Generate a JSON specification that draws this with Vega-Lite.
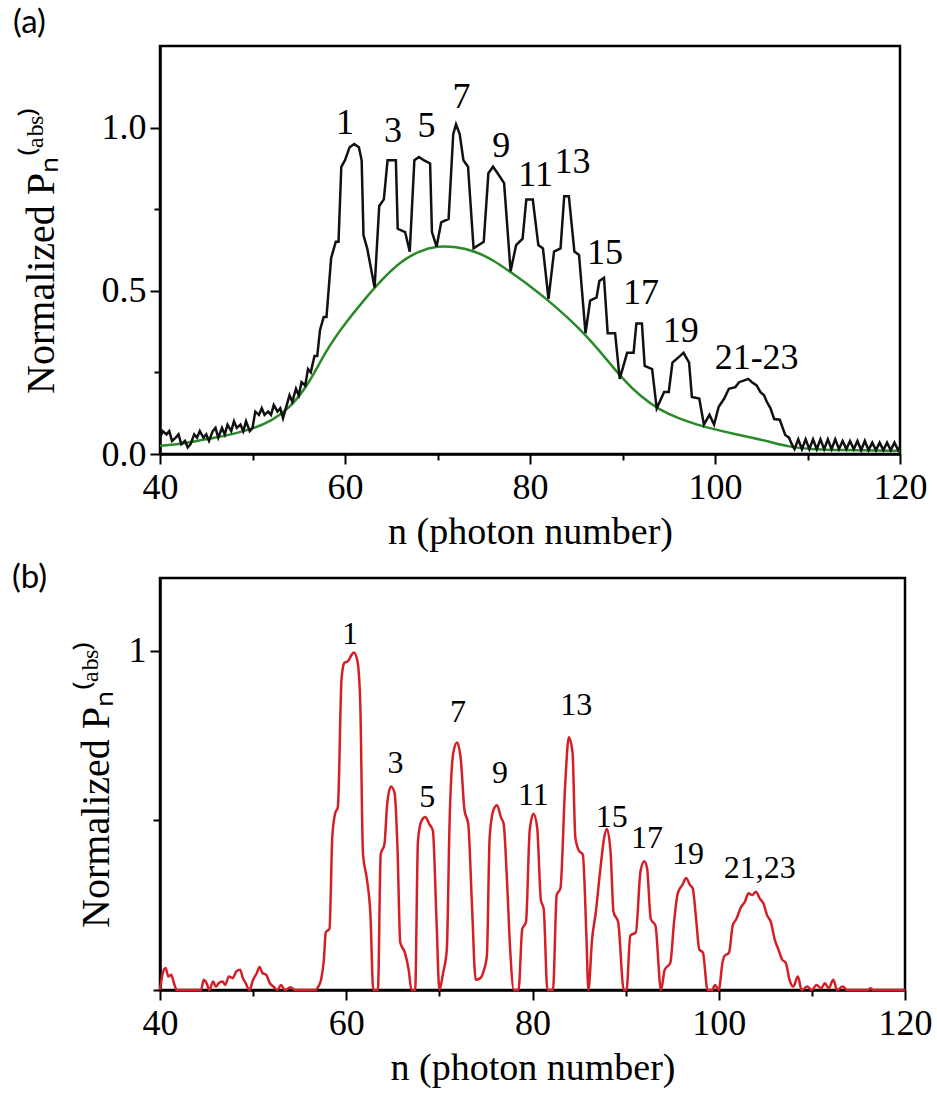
{
  "$schema": "https://vega.github.io/schema/vega-lite/v6.json",
  "background": "white",
  "padding": {"left": 10, "top": 5, "right": 20, "bottom": 5},
  "spacing": 7,
  "config": {
    "view": {"stroke": "black", "strokeWidth": 2.5},
    "axis": {
      "domainColor": "black", "domainWidth": 2.5, "tickColor": "black", "tickWidth": 2,
      "labelFont": "Liberation Serif", "labelFontSize": 36, "labelColor": "black",
      "titleFont": "Liberation Serif", "titleFontSize": 38, "titleFontWeight": "normal", "titleColor": "black",
      "grid": false, "labelFlush": false, "labelOverlap": false, "labelBound": false
    }
  },
  "datasets": {
    "a_black": [
      {"n":40.0,"p":0.05},{"n":40.3,"p":0.07},{"n":40.7,"p":0.06},{"n":41.0,"p":0.07},{"n":41.3,"p":0.04},{"n":41.7,"p":0.05},
      {"n":42.0,"p":0.06},{"n":42.3,"p":0.03},{"n":42.7,"p":0.04},{"n":43.0,"p":0.02},{"n":43.3,"p":0.03},{"n":43.7,"p":0.06},
      {"n":44.0,"p":0.05},{"n":44.3,"p":0.07},{"n":44.7,"p":0.05},{"n":45.0,"p":0.06},{"n":45.3,"p":0.04},{"n":45.7,"p":0.07},
      {"n":46.0,"p":0.08},{"n":46.3,"p":0.05},{"n":46.7,"p":0.08},{"n":47.0,"p":0.06},{"n":47.3,"p":0.09},{"n":47.7,"p":0.07},
      {"n":48.0,"p":0.10},{"n":48.3,"p":0.08},{"n":48.7,"p":0.09},{"n":49.0,"p":0.07},{"n":49.3,"p":0.10},{"n":49.7,"p":0.07},
      {"n":50.0,"p":0.08},{"n":50.3,"p":0.13},{"n":50.7,"p":0.12},{"n":51.0,"p":0.14},{"n":51.3,"p":0.12},{"n":51.7,"p":0.13},
      {"n":52.0,"p":0.12},{"n":52.3,"p":0.15},{"n":52.7,"p":0.13},{"n":53.0,"p":0.14},{"n":53.3,"p":0.11},{"n":53.7,"p":0.15},
      {"n":54.0,"p":0.18},{"n":54.3,"p":0.16},{"n":54.7,"p":0.20},{"n":55.0,"p":0.18},{"n":55.3,"p":0.22},{"n":55.7,"p":0.21},
      {"n":56.0,"p":0.26},{"n":56.3,"p":0.25},{"n":56.7,"p":0.30},{"n":57.0,"p":0.30},{"n":57.3,"p":0.38},{"n":57.7,"p":0.42},
      {"n":58.0,"p":0.42},{"n":58.5,"p":0.60},{"n":59.0,"p":0.65},{"n":59.3,"p":0.65},{"n":59.6,"p":0.88},{"n":60.0,"p":0.90},
      {"n":60.5,"p":0.94},{"n":61.0,"p":0.95},{"n":61.5,"p":0.94},{"n":61.8,"p":0.90},{"n":62.0,"p":0.67},{"n":62.4,"p":0.63},
      {"n":63.2,"p":0.51},{"n":63.7,"p":0.76},{"n":64.2,"p":0.78},{"n":64.6,"p":0.90},{"n":65.5,"p":0.90},{"n":65.7,"p":0.69},
      {"n":66.5,"p":0.68},{"n":67.0,"p":0.62},{"n":67.5,"p":0.90},{"n":68.0,"p":0.91},{"n":68.5,"p":0.90},{"n":69.2,"p":0.89},
      {"n":69.4,"p":0.68},{"n":69.9,"p":0.635},{"n":70.4,"p":0.71},{"n":71.2,"p":0.72},{"n":71.7,"p":0.98},{"n":72.0,"p":1.01},
      {"n":72.4,"p":0.98},{"n":72.8,"p":0.90},{"n":73.3,"p":0.88},{"n":73.9,"p":0.63},{"n":75.0,"p":0.65},{"n":75.5,"p":0.86},
      {"n":76.0,"p":0.88},{"n":76.5,"p":0.86},{"n":77.2,"p":0.83},{"n":77.9,"p":0.56},{"n":78.5,"p":0.64},{"n":79.2,"p":0.66},
      {"n":79.6,"p":0.78},{"n":80.3,"p":0.78},{"n":80.9,"p":0.64},{"n":81.4,"p":0.63},{"n":82.0,"p":0.475},{"n":82.6,"p":0.62},
      {"n":83.3,"p":0.63},{"n":83.7,"p":0.79},{"n":84.2,"p":0.79},{"n":84.8,"p":0.62},{"n":85.3,"p":0.61},{"n":86.0,"p":0.37},
      {"n":86.5,"p":0.47},{"n":87.2,"p":0.48},{"n":87.5,"p":0.53},{"n":88.0,"p":0.54},{"n":88.4,"p":0.37},{"n":89.2,"p":0.37},
      {"n":89.7,"p":0.23},{"n":90.5,"p":0.31},{"n":91.2,"p":0.31},{"n":91.5,"p":0.40},{"n":92.1,"p":0.40},{"n":92.4,"p":0.27},
      {"n":93.2,"p":0.26},{"n":93.7,"p":0.14},{"n":94.5,"p":0.19},{"n":95.0,"p":0.19},{"n":95.4,"p":0.28},{"n":96.2,"p":0.30},
      {"n":96.6,"p":0.31},{"n":97.2,"p":0.28},{"n":97.5,"p":0.175},{"n":98.3,"p":0.17},{"n":98.8,"p":0.09},{"n":99.4,"p":0.12},
      {"n":99.9,"p":0.09},{"n":100.4,"p":0.145},{"n":101.0,"p":0.17},{"n":101.5,"p":0.20},{"n":102.2,"p":0.205},{"n":102.6,"p":0.22},
      {"n":103.1,"p":0.225},{"n":103.6,"p":0.23},{"n":104.0,"p":0.22},{"n":104.5,"p":0.21},{"n":104.9,"p":0.19},{"n":105.3,"p":0.18},
      {"n":105.6,"p":0.16},{"n":106.0,"p":0.14},{"n":106.4,"p":0.107},{"n":107.0,"p":0.105},{"n":107.6,"p":0.058},{"n":108.0,"p":0.05},
      {"n":108.3,"p":0.03},{"n":108.6,"p":0.015},{"n":109.0,"p":0.045},{"n":109.4,"p":0.015},{"n":109.8,"p":0.045},{"n":110.2,"p":0.015},
      {"n":110.6,"p":0.045},{"n":111.0,"p":0.015},{"n":111.4,"p":0.045},{"n":111.8,"p":0.015},{"n":112.2,"p":0.045},{"n":112.6,"p":0.015},
      {"n":113.0,"p":0.045},{"n":113.4,"p":0.015},{"n":113.8,"p":0.04},{"n":114.2,"p":0.015},{"n":114.6,"p":0.04},{"n":115.0,"p":0.015},
      {"n":115.4,"p":0.04},{"n":115.8,"p":0.012},{"n":116.2,"p":0.04},{"n":116.6,"p":0.012},{"n":117.0,"p":0.035},{"n":117.4,"p":0.012},
      {"n":117.8,"p":0.035},{"n":118.2,"p":0.012},{"n":118.6,"p":0.035},{"n":119.0,"p":0.012},{"n":119.4,"p":0.035},{"n":119.8,"p":0.012},
      {"n":120.0,"p":0.02}
    ],
    "a_green": [
      {"n":40,"p":0.025},{"n":42,"p":0.03},{"n":44,"p":0.04},{"n":46,"p":0.05},{"n":48,"p":0.062},{"n":50,"p":0.077},
      {"n":52,"p":0.10},{"n":54,"p":0.14},{"n":56,"p":0.21},{"n":58,"p":0.32},{"n":60,"p":0.40},{"n":62,"p":0.47},
      {"n":64,"p":0.535},{"n":66,"p":0.59},{"n":68,"p":0.622},{"n":70,"p":0.638},{"n":72,"p":0.635},{"n":74,"p":0.622},
      {"n":76,"p":0.595},{"n":78,"p":0.555},{"n":80,"p":0.515},{"n":82,"p":0.47},{"n":84,"p":0.42},{"n":86,"p":0.365},
      {"n":88,"p":0.30},{"n":90,"p":0.23},{"n":92,"p":0.175},{"n":94,"p":0.135},{"n":96,"p":0.11},{"n":98,"p":0.09},
      {"n":100,"p":0.075},{"n":102,"p":0.062},{"n":104,"p":0.05},{"n":106,"p":0.037},{"n":108,"p":0.022},{"n":110,"p":0.015},
      {"n":114,"p":0.012},{"n":120,"p":0.01}
    ],
    "a_labels": [
      {"n":60.0,"p":0.98,"label":"1"},{"n":65.2,"p":0.955,"label":"3"},{"n":68.8,"p":0.972,"label":"5"},
      {"n":72.6,"p":1.06,"label":"7"},{"n":76.9,"p":0.91,"label":"9"},{"n":80.6,"p":0.82,"label":"11"},
      {"n":84.6,"p":0.86,"label":"13"},{"n":88.1,"p":0.583,"label":"15"},{"n":92.0,"p":0.46,"label":"17"},
      {"n":96.3,"p":0.344,"label":"19"},{"n":104.5,"p":0.26,"label":"21-23"}
    ],
    "b_red": [
      {"n":40.0,"p":0.0},{"n":40.3,"p":0.05},{"n":40.6,"p":0.065},{"n":40.9,"p":0.04},{"n":41.2,"p":0.045},{"n":41.5,"p":0.02},
      {"n":41.8,"p":0.0},{"n":44.4,"p":0.0},{"n":44.7,"p":0.03},{"n":45.0,"p":0.02},{"n":45.3,"p":0.0},{"n":45.7,"p":0.025},
      {"n":46.0,"p":0.01},{"n":46.3,"p":0.02},{"n":46.7,"p":0.025},{"n":47.0,"p":0.015},{"n":47.4,"p":0.04},{"n":47.8,"p":0.035},
      {"n":48.2,"p":0.055},{"n":48.6,"p":0.06},{"n":48.9,"p":0.035},{"n":49.2,"p":0.02},{"n":49.6,"p":0.0},{"n":50.0,"p":0.03},
      {"n":50.4,"p":0.05},{"n":50.7,"p":0.068},{"n":51.0,"p":0.05},{"n":51.4,"p":0.045},{"n":51.8,"p":0.02},{"n":52.2,"p":0.01},
      {"n":52.6,"p":0.0},{"n":53.0,"p":0.015},{"n":53.4,"p":0.0},{"n":54.0,"p":0.008},{"n":54.5,"p":0.0},{"n":56.7,"p":0.0},
      {"n":57.0,"p":0.01},{"n":57.3,"p":0.03},{"n":57.6,"p":0.09},{"n":57.8,"p":0.17},{"n":58.2,"p":0.18},{"n":58.5,"p":0.45},
      {"n":58.8,"p":0.52},{"n":59.1,"p":0.54},{"n":59.5,"p":0.92},{"n":59.8,"p":0.965},{"n":60.2,"p":0.97},{"n":60.5,"p":0.985},
      {"n":60.8,"p":0.995},{"n":61.2,"p":0.97},{"n":61.5,"p":0.85},{"n":61.8,"p":0.40},{"n":62.2,"p":0.33},{"n":62.6,"p":0.22},
      {"n":62.9,"p":0.0},{"n":63.4,"p":0.0},{"n":63.7,"p":0.40},{"n":64.1,"p":0.43},{"n":64.4,"p":0.55},{"n":64.8,"p":0.60},
      {"n":65.2,"p":0.58},{"n":65.5,"p":0.42},{"n":65.8,"p":0.14},{"n":66.3,"p":0.11},{"n":66.7,"p":0.06},{"n":67.0,"p":0.0},
      {"n":67.4,"p":0.0},{"n":67.7,"p":0.44},{"n":68.1,"p":0.50},{"n":68.5,"p":0.51},{"n":68.9,"p":0.49},{"n":69.3,"p":0.47},
      {"n":69.7,"p":0.2},{"n":70.0,"p":0.0},{"n":70.4,"p":0.05},{"n":70.8,"p":0.12},{"n":71.1,"p":0.50},{"n":71.5,"p":0.70},
      {"n":71.9,"p":0.73},{"n":72.3,"p":0.68},{"n":72.7,"p":0.53},{"n":73.1,"p":0.49},{"n":73.5,"p":0.25},{"n":73.9,"p":0.03},
      {"n":74.4,"p":0.035},{"n":74.8,"p":0.06},{"n":75.1,"p":0.10},{"n":75.4,"p":0.45},{"n":75.8,"p":0.53},{"n":76.2,"p":0.545},
      {"n":76.6,"p":0.51},{"n":76.9,"p":0.49},{"n":77.3,"p":0.30},{"n":77.6,"p":0.12},{"n":78.0,"p":0.0},{"n":78.5,"p":0.0},
      {"n":78.9,"p":0.18},{"n":79.3,"p":0.20},{"n":79.7,"p":0.47},{"n":80.1,"p":0.52},{"n":80.5,"p":0.48},{"n":80.9,"p":0.265},
      {"n":81.2,"p":0.24},{"n":81.6,"p":0.0},{"n":82.2,"p":0.0},{"n":82.6,"p":0.28},{"n":83.0,"p":0.30},{"n":83.5,"p":0.60},
      {"n":83.9,"p":0.745},{"n":84.3,"p":0.70},{"n":84.6,"p":0.45},{"n":85.0,"p":0.41},{"n":85.4,"p":0.40},{"n":85.8,"p":0.15},
      {"n":86.0,"p":0.0},{"n":86.4,"p":0.15},{"n":86.8,"p":0.23},{"n":87.3,"p":0.36},{"n":87.7,"p":0.45},{"n":88.0,"p":0.475},
      {"n":88.4,"p":0.40},{"n":88.7,"p":0.23},{"n":89.2,"p":0.20},{"n":89.8,"p":0.0},{"n":90.1,"p":0.0},{"n":90.5,"p":0.16},
      {"n":91.1,"p":0.17},{"n":91.6,"p":0.35},{"n":92.0,"p":0.38},{"n":92.3,"p":0.36},{"n":92.7,"p":0.21},{"n":93.2,"p":0.19},
      {"n":93.8,"p":0.0},{"n":94.2,"p":0.06},{"n":94.8,"p":0.08},{"n":95.2,"p":0.20},{"n":95.6,"p":0.285},{"n":96.1,"p":0.31},
      {"n":96.5,"p":0.33},{"n":96.9,"p":0.31},{"n":97.2,"p":0.30},{"n":97.6,"p":0.20},{"n":97.9,"p":0.12},{"n":98.3,"p":0.11},
      {"n":98.8,"p":0.0},{"n":99.3,"p":0.0},{"n":99.6,"p":0.015},{"n":100.0,"p":0.0},{"n":100.4,"p":0.08},{"n":100.6,"p":0.10},
      {"n":101.1,"p":0.11},{"n":101.5,"p":0.19},{"n":101.9,"p":0.21},{"n":102.4,"p":0.245},{"n":102.8,"p":0.26},{"n":103.2,"p":0.285},
      {"n":103.6,"p":0.28},{"n":104.0,"p":0.29},{"n":104.4,"p":0.27},{"n":104.8,"p":0.255},{"n":105.2,"p":0.22},{"n":105.6,"p":0.20},
      {"n":106.0,"p":0.15},{"n":106.4,"p":0.12},{"n":106.8,"p":0.09},{"n":107.2,"p":0.08},{"n":107.6,"p":0.03},{"n":108.0,"p":0.01},
      {"n":108.5,"p":0.04},{"n":108.9,"p":0.0},{"n":109.5,"p":0.01},{"n":110.0,"p":0.0},{"n":110.5,"p":0.015},{"n":111.0,"p":0.005},
      {"n":111.4,"p":0.02},{"n":111.8,"p":0.005},{"n":112.3,"p":0.03},{"n":112.7,"p":0.0},{"n":113.3,"p":0.01},{"n":113.8,"p":0.0},
      {"n":116.0,"p":0.0},{"n":116.3,"p":0.005},{"n":116.6,"p":0.0},{"n":120.0,"p":0.0}
    ],
    "b_labels": [
      {"n":60.4,"p":1.02,"label":"1"},{"n":65.3,"p":0.64,"label":"3"},{"n":68.7,"p":0.54,"label":"5"},
      {"n":72.0,"p":0.79,"label":"7"},{"n":76.5,"p":0.61,"label":"9"},{"n":80.1,"p":0.545,"label":"11"},
      {"n":84.7,"p":0.81,"label":"13"},{"n":88.5,"p":0.48,"label":"15"},{"n":92.3,"p":0.42,"label":"17"},
      {"n":96.7,"p":0.373,"label":"19"},{"n":104.4,"p":0.33,"label":"21,23"}
    ]
  },
  "vconcat": [
    {
      "width": 740, "height": 408,
      "title": {"text": "(a)", "anchor": "start", "frame": "bounds", "font": "Lato", "fontSize": 33, "fontWeight": "normal", "color": "black", "baseline": "bottom", "offset": -27, "dx": -8},
      "encoding": {
        "x": {"field": "n", "type": "quantitative",
              "scale": {"domain": [40, 120], "nice": false, "zero": false},
              "axis": {"values": [40,50,60,70,80,90,100,110,120], "title": "n (photon number)",
                       "labelExpr": "datum.value % 20 === 0 ? datum.label : ''",
                       "tickSize": {"condition": {"test": "datum.value % 20 === 0", "value": 10}, "value": 6},
                       "labelPadding": 6, "titlePadding": 8}},
        "y": {"field": "p", "type": "quantitative",
              "scale": {"domain": [0, 1.25], "nice": false, "zero": false},
              "axis": {"values": [0, 0.25, 0.5, 0.75, 1.0], "format": ".1f", "title": "Normalized Pₙ⁽ᵃᵇˢ⁾",
                       "titleFontSize": 40,
                       "labelExpr": "datum.value % 0.5 === 0 ? datum.label : ''",
                       "tickSize": {"condition": {"test": "datum.value % 0.5 === 0", "value": 10}, "value": 6},
                       "labelPadding": 4, "titlePadding": 40}}
      },
      "layer": [
        {"data": {"name": "a_green"}, "mark": {"type": "line", "color": "#2a8a2a", "strokeWidth": 2.5, "interpolate": "basis"}, "encoding": {}},
        {"data": {"name": "a_black"}, "mark": {"type": "line", "color": "#111111", "strokeWidth": 2.5}, "encoding": {}},
        {"data": {"name": "a_labels"}, "mark": {"type": "text", "font": "Liberation Serif", "fontSize": 36, "baseline": "alphabetic", "align": "center", "color": "black"},
         "encoding": {"text": {"field": "label"}}}
      ]
    },
    {
      "width": 745, "height": 412,
      "title": {"text": "(b)", "anchor": "start", "frame": "bounds", "font": "Lato", "fontSize": 33, "fontWeight": "normal", "color": "black", "baseline": "bottom", "offset": -50, "dx": -64},
      "encoding": {
        "x": {"field": "n", "type": "quantitative",
              "scale": {"domain": [40, 120], "nice": false, "zero": false},
              "axis": {"values": [40,50,60,70,80,90,100,110,120], "title": "n (photon number)",
                       "labelExpr": "datum.value % 20 === 0 ? datum.label : ''",
                       "tickSize": {"condition": {"test": "datum.value % 20 === 0", "value": 10}, "value": 6},
                       "labelPadding": 6, "titlePadding": 8}},
        "y": {"field": "p", "type": "quantitative",
              "scale": {"domain": [0, 1.215], "nice": false, "zero": false},
              "axis": {"values": [0, 0.5, 1], "title": "Normalized Pₙ⁽ᵃᵇˢ⁾",
                       "titleFontSize": 40,
                       "labelExpr": "datum.value === 1 ? '1' : ''",
                       "tickSize": {"condition": {"test": "datum.value === 1", "value": 10}, "value": 7},
                       "labelPadding": 4, "titlePadding": 12}}
      },
      "layer": [
        {"data": {"name": "b_red"}, "mark": {"type": "line", "color": "#d41f26", "strokeWidth": 2.5, "interpolate": "monotone"}, "encoding": {}},
        {"data": {"name": "b_labels"}, "mark": {"type": "text", "font": "Liberation Serif", "fontSize": 32, "baseline": "alphabetic", "align": "center", "color": "black"},
         "encoding": {"text": {"field": "label"}}}
      ]
    }
  ]
}
